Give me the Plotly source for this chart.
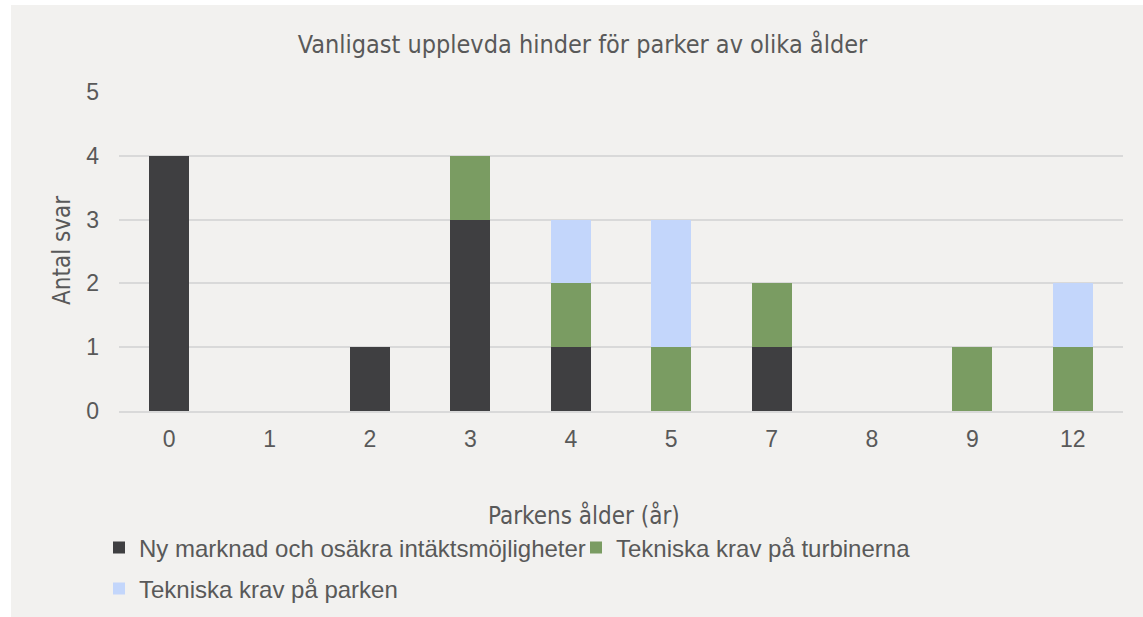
import plotly.graph_objects as go

categories = ["0", "1", "2", "3", "4", "5", "7", "8", "9", "12"]
ny_marknad = [4, 0, 1, 3, 1, 0, 1, 0, 0, 0]
turbiner = [0, 0, 0, 1, 1, 1, 1, 0, 1, 1]
parken = [0, 0, 0, 0, 1, 2, 0, 0, 0, 1]

series_names = [
    "Ny marknad och osäkra intäktsmöjligheter",
    "Tekniska krav på turbinerna",
    "Tekniska krav på parken",
]
colors = ["#3f3f41", "#7a9c62", "#c3d6fb"]
legends = ["legend", "legend", "legend2"]

W, H = 1143, 617
ML, MR, MT, MB = 119, 20, 92, 206
pw, ph = W - ML - MR, H - MT - MB


def px2x(p):
    return (p - ML) / pw


def py2y(p):
    return 1 - (p - MT) / ph


fig = go.Figure()
for name, vals, col, lg in zip(series_names, [ny_marknad, turbiner, parken], colors, legends):
    fig.add_trace(go.Bar(x=categories, y=vals, name=name, legend=lg,
                         marker=dict(color=col, line=dict(width=0))))

cond = "DejaVu Sans Condensed, Roboto Condensed, Liberation Sans Narrow, Roboto"
txt = "#595959"
lfont = dict(family="Liberation Sans, Arial", size=24, color=txt)

fig.update_layout(
    width=W, height=H,
    margin=dict(l=ML, r=MR, t=MT, b=MB, autoexpand=False),
    barmode="stack",
    bargap=0.6,
    paper_bgcolor="#f2f1ef",
    plot_bgcolor="#f2f1ef",
    title=dict(text="Vanligast upplevda hinder för parker av olika ålder",
               x=582.5 / W, xanchor="center", y=1 - 44 / H, yanchor="middle",
               font=dict(family=cond, size=25, color=txt)),
    font=dict(family="Liberation Sans, Arial", color=txt, size=23),
    xaxis=dict(type="category", showgrid=False, showline=True,
               linecolor="#d9d9d9", linewidth=1.5, ticks="",
               ticklabelstandoff=7,
               tickfont=dict(size=23, color=txt)),
    yaxis=dict(range=[0, 5], dtick=1, showgrid=True, gridcolor="#d9d9d9",
               gridwidth=1.5, zeroline=False, ticks="", ticklabelstandoff=19,
               tickfont=dict(size=23, color=txt)),
    legend=dict(orientation="h", x=px2x(99), xanchor="left", y=py2y(548),
                yanchor="middle", entrywidth=432, traceorder="normal",
                font=lfont, bgcolor="rgba(0,0,0,0)"),
    legend2=dict(orientation="h", x=px2x(99), xanchor="left", y=py2y(589),
                 yanchor="middle", font=lfont, bgcolor="rgba(0,0,0,0)"),
    annotations=[
        dict(text="Parkens ålder (år)", xref="paper", yref="paper",
             x=px2x(584), y=py2y(515), xanchor="center", yanchor="middle",
             showarrow=False, font=dict(family=cond, size=24, color=txt)),
        dict(text="Antal svar", xref="paper", yref="paper", textangle=-90,
             x=px2x(62), y=py2y(251), xanchor="center", yanchor="middle",
             showarrow=False, font=dict(family=cond, size=24, color=txt)),
    ],
    shapes=[
        dict(type="rect", xref="paper", yref="paper", layer="below",
             x0=px2x(0), x1=px2x(W), y0=py2y(0), y1=py2y(5),
             fillcolor="white", line=dict(width=0)),
        dict(type="rect", xref="paper", yref="paper", layer="below",
             x0=px2x(0), x1=px2x(11), y0=py2y(H), y1=py2y(0),
             fillcolor="white", line=dict(width=0)),
    ],
)

fig.write_html("out.html", config={"displayModeBar": False},
               post_script="document.body.style.margin='0';document.body.style.overflow='hidden';")
